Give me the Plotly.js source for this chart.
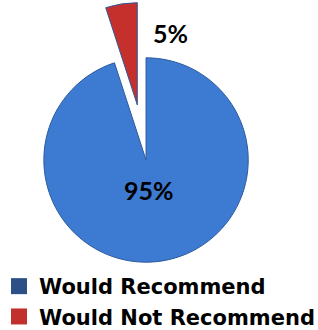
<!DOCTYPE html>
<html>
<head>
<meta charset="utf-8">
<script src="https://cdn.plot.ly/plotly-3.0.1.min.js"></script>
<style>
html, body { margin: 0; padding: 0; overflow: hidden; background: #ffffff; }
#wrap { position: absolute; left: -30px; top: 0; width: 360px; height: 337px; }
</style>
</head>
<body>
<div id="wrap"></div>
<script>
const labels = ['Would Recommend', 'Would Not Recommend'];
const values = [95, 5];
const sliceColors = ['#3d7bd2', '#c6302c'];
const legendColors = ['#2b4f86', '#c2302d'];
const pulls = [0, 0.546];
// label anchor positions (paper fractions) for the percentage labels
const labelX = [0.497, 0.556];
const labelY = [0.4362, 0.9021];

const total = values.reduce((a, b) => a + b, 0);
const pctText = values.map(v => Math.round(v / total * 100) + '%');

const trace = {
  type: 'pie',
  labels: labels,
  values: values,
  sort: false,
  direction: 'clockwise',
  rotation: 0,
  pull: pulls,
  textinfo: 'none',
  marker: { colors: sliceColors, line: { color: '#2d5a9c', width: 1 } },
  domain: { x: [0.05, 0.928], y: [0.05638, 0.99407] },
  hoverinfo: 'none'
};

const annotations = pctText.map((t, i) => ({
  text: t,
  xref: 'paper', yref: 'paper',
  x: labelX[i], y: labelY[i],
  xanchor: 'center', yanchor: 'middle',
  showarrow: false,
  font: { family: 'Lato', size: 25, color: '#000000', weight: 700 }
}));

const layout = {
  width: 360,
  height: 337,
  margin: { l: 0, r: 0, t: 0, b: 0 },
  paper_bgcolor: '#ffffff',
  showlegend: true,
  annotations: annotations,
  legend: {
    x: 0.0805, y: 0, xanchor: 'left', yanchor: 'bottom',
    font: { family: 'DejaVu Sans', size: 21, color: '#000000', weight: 700 },
    bgcolor: 'rgba(0,0,0,0)'
  }
};

Plotly.newPlot('wrap', [trace], layout, { staticPlot: true }).then(() => {
  document.querySelectorAll('#wrap .legendpie').forEach((p, i) => {
    const old = p.getAttribute('transform') || '';
    p.setAttribute('transform', old + ' scale(1.333)');
    p.style.fill = legendColors[i];
    p.style.stroke = 'none';
  });
});
</script>
</body>
</html>
